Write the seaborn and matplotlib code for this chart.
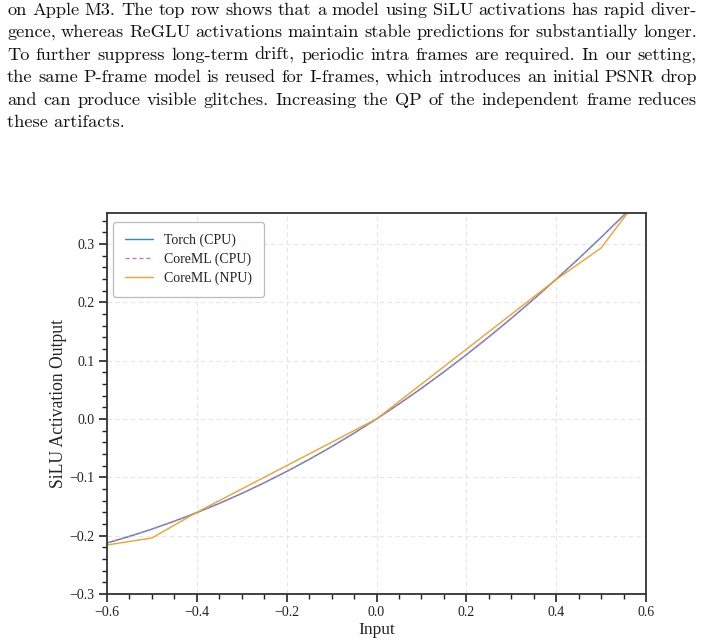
import numpy as np
import pandas as pd
import matplotlib
matplotlib.use("Agg")
import matplotlib.pyplot as plt
import seaborn as sns
from matplotlib.ticker import MultipleLocator

# ---- data ----
x_in = [-0.60, -0.55, -0.50, -0.45, -0.40, -0.35, -0.30, -0.25, -0.20, -0.15, -0.10, -0.05,
        0.00, 0.05, 0.10, 0.15, 0.20, 0.25, 0.30, 0.35, 0.40, 0.45, 0.50, 0.55, 0.60]
torch_cpu = [-0.2126, -0.2012, -0.1888, -0.1752, -0.1605, -0.1447, -0.1277, -0.1094, -0.0900,
             -0.0694, -0.0475, -0.0244, 0.0000, 0.0256, 0.0525, 0.0806, 0.1100, 0.1406,
             0.1723, 0.2053, 0.2395, 0.2748, 0.3112, 0.3488, 0.3874]
coreml_cpu = list(torch_cpu)
npu_x = [-0.60, -0.50, -0.40, 0.00, 0.40, 0.50, 0.60]
npu_y = [-0.216, -0.204, -0.160, 0.000, 0.239, 0.293, 0.395]

paragraph = [
    "on Apple M3. The top row shows that a model using SiLU activations has rapid diver-",
    "gence, whereas ReGLU activations maintain stable predictions for substantially longer.",
    "To further suppress long-term drift, periodic intra frames are required. In our setting,",
    "the same P-frame model is reused for I-frames, which introduces an initial PSNR drop",
    "and can produce visible glitches. Increasing the QP of the independent frame reduces",
    "these artifacts.",
]

sns.set_theme(style="whitegrid")
plt.rcParams["font.family"] = ["Liberation Serif", "DejaVu Serif"]
plt.rcParams["axes.unicode_minus"] = True

W, H = 703, 644
fig = plt.figure(figsize=(W/100, H/100), dpi=100)
ax = fig.add_axes([107/W, 50/H, 539/W, 381/H])

df_t = pd.DataFrame({"x": x_in, "y": torch_cpu})
df_c = pd.DataFrame({"x": x_in, "y": coreml_cpu})
df_n = pd.DataFrame({"x": npu_x, "y": npu_y})

sns.lineplot(data=df_t, x="x", y="y", ax=ax, color="#2a8cc0", lw=1.0, label="Torch (CPU)")
sns.lineplot(data=df_c, x="x", y="y", ax=ax, color="#cc78bc", lw=1.0, ls=(0, (3, 2)), label="CoreML (CPU)")
sns.lineplot(data=df_n, x="x", y="y", ax=ax, color="#f5a02a", lw=1.0, label="CoreML (NPU)")

ax.set_xlim(-0.6, 0.6)
ax.set_ylim(-0.3, 0.353)
ax.xaxis.set_minor_locator(MultipleLocator(0.05))
ax.yaxis.set_minor_locator(MultipleLocator(0.02))
ax.set_xticks([-0.6, -0.4, -0.2, 0.0, 0.2, 0.4, 0.6])
ax.set_xticklabels(["\u22120.6", "\u22120.4", "\u22120.2", "0.0", "0.2", "0.4", "0.6"])
ax.set_yticks([-0.3, -0.2, -0.1, 0.0, 0.1, 0.2, 0.3])
ax.set_yticklabels(["\u22120.3", "\u22120.2", "\u22120.1", "0.0", "0.1", "0.2", "0.3"])

ax.tick_params(axis="both", which="major", direction="out", length=6, width=1.2,
               color="#222222", labelsize=10, labelcolor="#222222", pad=3,
               bottom=True, left=True)
ax.tick_params(axis="both", which="minor", direction="out", length=3.5, width=1.0,
               color="#222222", bottom=True, left=True)
ax.grid(True, which="major", ls=(0, (4, 3)), color="#e6e6e6", lw=0.8)
ax.grid(False, which="minor")
for s in ax.spines.values():
    s.set_visible(True)
    s.set_color("#333333")
    s.set_linewidth(1.3)
ax.set_facecolor("white")

ax.set_xlabel("Input", fontsize=12.5, color="#222222", labelpad=2)
ax.set_ylabel("SiLU Activation Output", fontsize=12.7, color="#222222", labelpad=2)

leg = ax.legend(loc="upper left", fontsize=10, frameon=True, fancybox=True,
                handlelength=2.0, handletextpad=0.8, borderpad=0.85, labelspacing=0.4,
                bbox_to_anchor=(0.0, 0.993), borderaxespad=0.45)
leg.get_frame().set_edgecolor("#aaaaaa")
leg.get_frame().set_linewidth(0.9)
for t in leg.get_texts():
    t.set_color("#222222")

# justified paragraph text
fig.canvas.draw()
renderer = fig.canvas.get_renderer()
x0, x1 = 7, 697
fs = 13.2
for i, line in enumerate(paragraph):
    y = 1 - (10 + 22.5 * i) / H
    words = line.split(" ")
    if i == len(paragraph) - 1:
        fig.text(x0 / W, y, line, fontsize=fs, family="cmr10", va="center", ha="left", color="#111111")
        continue
    texts = [fig.text(0, y, w, fontsize=fs, family="cmr10", va="center", ha="left", color="#111111")
             for w in words]
    widths = [t.get_window_extent(renderer).width for t in texts]
    gap = (x1 - x0 - sum(widths)) / (len(words) - 1)
    xp = x0
    for t, w in zip(texts, widths):
        t.set_x(xp / W)
        xp += w + gap

fig.savefig("out.png", dpi=100, facecolor="white")
